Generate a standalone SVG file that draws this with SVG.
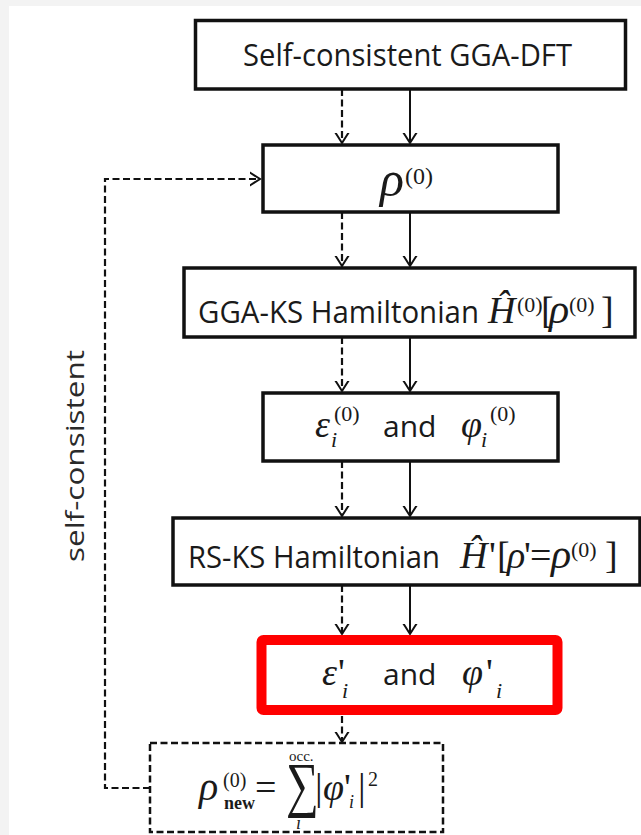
<svg xmlns="http://www.w3.org/2000/svg" width="641" height="835" viewBox="0 0 641 835">
<style>
.box{fill:#fff;stroke:#111;stroke-width:3.5}
.dbox{fill:#fff;stroke:#111;stroke-width:2.5;stroke-dasharray:7 3.5}
.red{fill:#fff;stroke:#ff0000;stroke-width:10}
.t{font-family:"Open Sans","Liberation Sans",sans-serif;font-size:30px;fill:#1a1a1a}
.m{font-family:"Liberation Serif","Times New Roman",serif;font-style:italic;font-size:38px;fill:#1a1a1a}
.u{font-family:"Liberation Serif","Times New Roman",serif;font-size:38px;fill:#1a1a1a}
.s{font-family:"Liberation Serif","Times New Roman",serif;font-size:22px;fill:#1a1a1a}
.si{font-family:"Liberation Serif","Times New Roman",serif;font-style:italic;font-size:22px;fill:#1a1a1a}
.solid{fill:none;stroke:#111;stroke-width:2}
.dash{fill:none;stroke:#111;stroke-width:2.2;stroke-dasharray:7 3.5}
</style>
<defs>
<marker id="ah" markerUnits="userSpaceOnUse" markerWidth="20" markerHeight="20" viewBox="-10 -10 20 20" refX="0" refY="0" orient="auto">
<path d="M-11,-7 L0,0 L-11,7" fill="none" stroke="#111" stroke-width="2"/>
</marker>
</defs>
<rect x="0" y="0" width="641" height="835" fill="#f3f3f3"/>
<rect x="9" y="6" width="632" height="829" fill="#ffffff"/>

<g id="connectors">
<line class="dash" x1="342" y1="89" x2="342" y2="143" marker-end="url(#ah)"/>
<line class="solid" x1="410" y1="89" x2="410" y2="143" marker-end="url(#ah)"/>
<line class="dash" x1="342" y1="212" x2="342" y2="266" marker-end="url(#ah)"/>
<line class="solid" x1="410" y1="212" x2="410" y2="266" marker-end="url(#ah)"/>
<line class="dash" x1="342" y1="337" x2="342" y2="391" marker-end="url(#ah)"/>
<line class="solid" x1="410" y1="337" x2="410" y2="391" marker-end="url(#ah)"/>
<line class="dash" x1="342" y1="461" x2="342" y2="516" marker-end="url(#ah)"/>
<line class="solid" x1="410" y1="461" x2="410" y2="516" marker-end="url(#ah)"/>
<line class="dash" x1="342" y1="585" x2="342" y2="634" marker-end="url(#ah)"/>
<line class="solid" x1="410" y1="585" x2="410" y2="634" marker-end="url(#ah)"/>
<line class="dash" x1="342" y1="716" x2="342" y2="742" marker-end="url(#ah)"/>
<polyline class="dash" points="150,788 105,788 105,179 260,179" marker-end="url(#ah)"/>
</g>

<g id="node-gga-dft">
<rect class="box" x="195.5" y="20.5" width="430" height="68.5"/>
<text class="t" x="243" y="66" textLength="329" lengthAdjust="spacingAndGlyphs" style="font-size:31px">Self-consistent GGA-DFT</text>
</g>

<g id="node-rho0">
<rect class="box" x="263" y="145" width="295" height="67"/>
<text class="m" x="380" y="196" style="font-size:50px">ρ</text>
<text class="s" x="405" y="184" style="font-size:24px">(0)</text>
</g>

<g id="node-gga-ks">
<rect class="box" x="184" y="268" width="451" height="69"/>
<text class="t" x="198" y="323" textLength="281" lengthAdjust="spacingAndGlyphs" style="font-size:31px">GGA-KS Hamiltonian</text>
<text class="m" x="488" y="323">Ĥ</text>
<text class="s" x="517" y="312">(0)</text>
<text class="u" x="541" y="323">[</text>
<text class="m" x="549" y="323" style="font-size:42px">ρ</text>
<text class="s" x="569" y="312">(0)</text>
<text class="u" x="601" y="323">]</text>
</g>

<g id="node-eps0">
<rect class="box" x="263" y="393" width="295" height="68"/>
<text class="m" x="315" y="437">ε</text>
<text class="s" x="334" y="421">(0)</text>
<text class="si" x="331" y="447">i</text>
<text class="t" x="383" y="437">and</text>
<text class="m" x="461" y="437">φ</text>
<text class="s" x="490" y="421">(0)</text>
<text class="si" x="481" y="447">i</text>
</g>

<g id="node-rs-ks">
<rect class="box" x="173" y="518" width="467" height="67"/>
<text class="t" x="188" y="568" textLength="252" lengthAdjust="spacingAndGlyphs" style="font-size:31px">RS-KS Hamiltonian</text>
<text class="m" x="460" y="568">Ĥ</text>
<text class="u" x="489" y="568">'</text>
<text class="u" x="497" y="568">[</text>
<text class="m" x="507" y="568">ρ</text>
<text class="u" x="524" y="568">'</text>
<text class="u" x="530" y="568">=</text>
<text class="m" x="551" y="568" style="font-size:42px">ρ</text>
<text class="s" x="571" y="557">(0)</text>
<text class="u" x="605" y="568">]</text>
</g>

<g id="node-eps-prime">
<rect class="red" x="261.5" y="640" width="296" height="70" rx="2"/>
<text class="m" x="322" y="685">ε</text>
<text class="u" x="338" y="685">'</text>
<text class="si" x="342" y="698">i</text>
<text class="t" x="383" y="685">and</text>
<text class="m" x="462" y="685">φ</text>
<text class="u" x="486" y="685">'</text>
<text class="si" x="496" y="698">i</text>
</g>

<g id="node-rho-new">
<rect class="dbox" x="150" y="743" width="293" height="89"/>
<text class="m" x="199" y="800" style="font-size:40px">ρ</text>
<text class="s" x="223" y="787" style="font-size:20px">(0)</text>
<text class="s" x="224" y="809" style="font-size:18px;font-weight:bold">new</text>
<text class="u" x="255" y="800">=</text>
<text class="u" transform="translate(286,805) scale(1,1.33)" style="font-size:46px">∑</text>
<text class="s" x="289" y="761" style="font-size:15px">occ.</text>
<text class="si" x="296" y="829" style="font-size:18px">i</text>
<text class="u" x="315" y="800">|</text>
<text class="m" x="323" y="800">φ</text>
<text class="u" x="344" y="800">'</text>
<text class="si" x="349" y="808" style="font-size:18px">i</text>
<text class="u" x="358" y="800">|</text>
<text class="s" x="368" y="786" style="font-size:20px">2</text>
</g>

<g id="label">
<text class="t" transform="translate(84,456) rotate(-90)" text-anchor="middle" style="font-size:26px;fill:#2a2a2a" textLength="212" lengthAdjust="spacingAndGlyphs">self-consistent</text>
</g>
</svg>
